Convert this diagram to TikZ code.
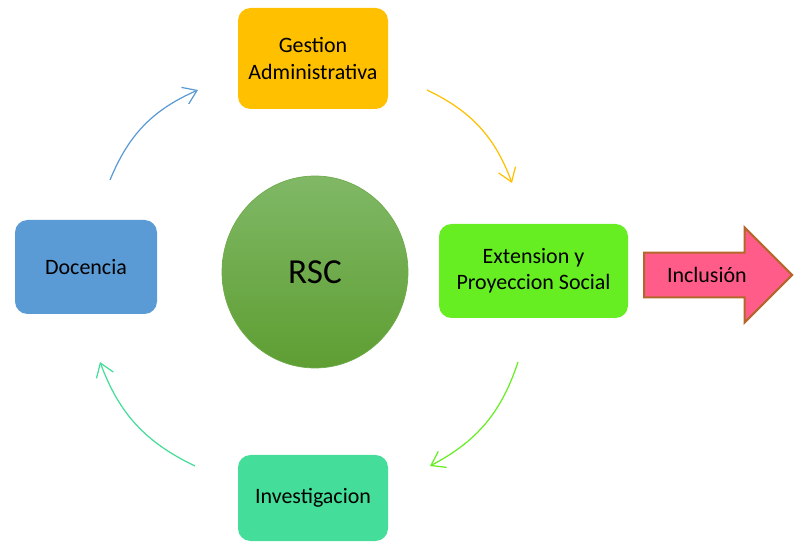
\documentclass[tikz,border=0pt]{standalone}
\usepackage{fontspec}
\setmainfont{Carlito}
\usepackage{tikz}
\usetikzlibrary{arrows.meta, shapes.arrows, shapes.geometric}

\definecolor{gestfill}{HTML}{FFC000}
\definecolor{docfill}{HTML}{5B9BD5}
\definecolor{extfill}{HTML}{66EE22}
\definecolor{invfill}{HTML}{44DD99}
\definecolor{rsctop}{HTML}{80B866}
\definecolor{rscbot}{HTML}{5E9E32}
\definecolor{incfill}{HTML}{FF5C8A}
\definecolor{incdraw}{HTML}{B5662A}

\tikzset{
  area/.style={rectangle, rounded corners=2.5mm, align=center, text=black,
    font=\fontsize{12.5}{15}\selectfont},
  cycle/.style={-{Straight Barb[length=2.6mm, width=3.6mm]}, line width=0.7pt, bend left=22}
}

\begin{document}
\begin{tikzpicture}
            \useasboundingbox (0,0) rectangle (15.9,10.82);

            % Nodes
            \node[area, fill=gestfill, minimum width=3.0cm, minimum height=2.02cm] (gest) at (6.26, 9.65) {Gestion\\Administrativa};
            \node[area, fill=docfill, minimum width=2.84cm, minimum height=1.88cm] (doc) at (1.72, 5.48) {Docencia};
            \node[area, fill=extfill, minimum width=3.78cm, minimum height=1.88cm] (ext) at (10.67, 5.40) {Extension y\\Proyeccion Social};
            \node[area, fill=invfill, minimum width=3.0cm, minimum height=1.72cm] (inv) at (6.26, 0.86) {Investigacion};
            \node[ellipse, minimum width=3.72cm, minimum height=3.84cm, top color=rsctop, bottom color=rscbot,
                  draw=rsctop!50!rscbot, line width=0.4pt,
                  font=\fontsize{20}{24}\selectfont] (rsc) at (6.30, 5.38) {RSC};
            \node[single arrow, draw=incdraw, line width=1.2pt, fill=incfill, minimum height=2.96cm, minimum width=1.9cm,
                  single arrow head extend=0.33cm, single arrow tip angle=90, anchor=tail,
                  font=\fontsize{12.5}{15}\selectfont] (inc) at (12.86, 5.32) {Inclusión};

            % Arrow ends
            \coordinate (d1) at (2.20, 7.22);
            \coordinate (g0) at (3.96, 9.02);
            \coordinate (g1) at (8.54, 9.02);
            \coordinate (e0) at (10.24, 7.16);
            \coordinate (e1) at (10.36, 3.58);
            \coordinate (i0) at (8.60, 1.50);
            \coordinate (i1) at (3.90, 1.50);
            \coordinate (d0) at (2.00, 3.58);

            % Lines
            \draw[cycle, draw=docfill] (d1) to (g0);
            \draw[cycle, draw=gestfill] (g1) to (e0);
            \draw[cycle, draw=extfill] (e1) to (i0);
            \draw[cycle, draw=invfill] (i1) to (d0);
        \end{tikzpicture}
\end{document}
